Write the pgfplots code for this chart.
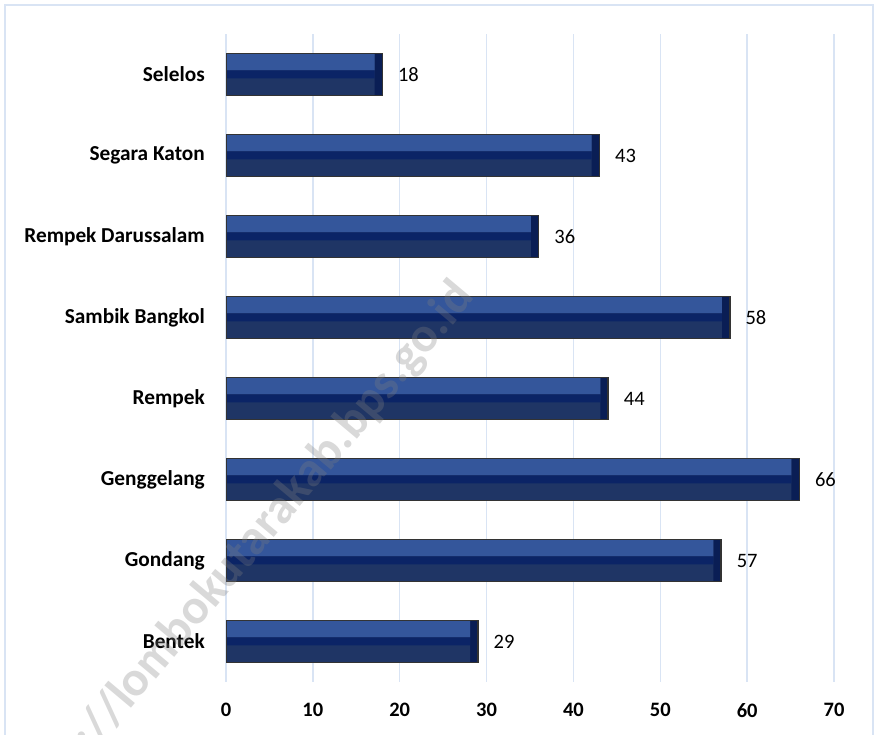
\documentclass[border=0pt]{standalone}
\usepackage{pgfplots}
\pgfplotsset{compat=1.18}
\usepackage{pgfplotstable}
\usepackage{fontspec}
\setmainfont{Carlito}

\definecolor{gridblue}{HTML}{D9E4F4}
\definecolor{bandtop}{HTML}{34569B}
\definecolor{bandmid}{HTML}{0B2466}
\definecolor{bandbot}{HTML}{1F3565}
\definecolor{capdark}{HTML}{0A1E55}

% villages, bottom to top
\pgfplotstableread{
y v
0 29
1 57
2 66
3 44
4 58
5 36
6 43
7 18
}\villages

\begin{document}
\begin{tikzpicture}[x=1pt,y=1pt]
\useasboundingbox (0,0) rectangle (875,735);
\begin{scope}
\clip (0,0) rectangle (875,735);
\draw[gridblue, line width=2.5pt] (5,-10) rectangle (873,730);
\end{scope}
\begin{axis}[
    at={(226pt,53pt)}, anchor=south west,
    scale only axis, width=608pt, height=648pt,
    xbar, bar width=42pt, bar shift=0pt,
    xmin=0, xmax=70, ymin=-0.5, ymax=7.5,
    xtick={0,10,...,70},
    ytick={0,...,7},
    yticklabels={Bentek, Gondang, Genggelang, Rempek, Sambik Bangkol,
                 Rempek Darussalam, Segara Katon, Selelos},
    axis line style={draw=none},
    major tick length=0pt,
    xmajorgrids, grid style={gridblue, line width=1.5pt},
    ticklabel style={inner sep=0pt},
    xticklabel style={font=\fontsize{20.5}{24}\selectfont\bfseries,
        anchor=north, yshift=-21pt},
    yticklabel style={font=\fontsize{21.3}{25}\selectfont\bfseries,
        anchor=east, xshift=-21pt},
    /pgf/number format/assume math mode=true,
]
% base with dark end cap
\addplot[fill=capdark, draw=none, bar shift=0pt] table[x=v, y=y] {\villages};
% bevel bands
\addplot[fill=bandbot, draw=none, bar shift=0pt]
    table[x expr=\thisrow{v}-0.9, y=y] {\villages};
\addplot[fill=bandtop, draw=none, bar width=17pt, bar shift=12.5pt]
    table[x expr=\thisrow{v}-0.9, y=y] {\villages};
\addplot[fill=bandmid, draw=none, bar width=8pt, bar shift=0pt]
    table[x expr=\thisrow{v}-0.9, y=y] {\villages};
% outline and value labels
\addplot[fill=none, draw=black!80, line width=1.5pt, bar shift=0pt,
    nodes near coords,
    every node near coord/.append style={font=\fontsize{20.5}{24}\selectfont,
        text=black, anchor=west, inner sep=0pt, xshift=15pt}]
    table[x=v, y=y] {\villages};
\end{axis}
\begin{scope}
\clip (0,0) rectangle (875,735);
\node[rotate=50, anchor=base east, text=gray, text opacity=0.3,
      font=\fontsize{49.5}{54}\selectfont\bfseries] at (478,440)
      {http://lombokutarakab.bps.go.id};
\end{scope}
\end{tikzpicture}
\end{document}
